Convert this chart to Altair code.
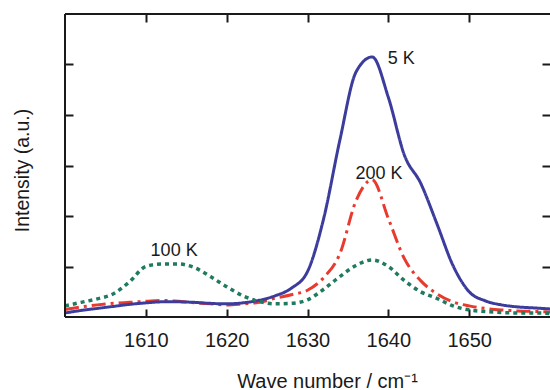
import altair as alt
import pandas as pd

# Raman spectra of the C=C stretch region at three temperatures
wavenumber = [1600, 1602, 1604, 1606, 1608, 1610, 1612, 1614, 1616, 1618,
              1620, 1622, 1624, 1626, 1628, 1630, 1632, 1634, 1636, 1638,
              1640, 1642, 1644, 1646, 1648, 1650, 1652, 1654, 1656, 1658, 1660]

int_5k = [0.08, 0.13, 0.17, 0.21, 0.25, 0.28, 0.30, 0.30, 0.29, 0.27,
          0.26, 0.28, 0.33, 0.42, 0.57, 0.90, 1.95, 3.50, 4.85, 5.15,
          4.35, 3.20, 2.65, 1.85, 1.02, 0.50, 0.32, 0.24, 0.20, 0.18, 0.16]

int_100k = [0.22, 0.29, 0.36, 0.46, 0.70, 1.00, 1.05, 1.05, 0.98, 0.80,
            0.60, 0.42, 0.31, 0.26, 0.27, 0.34, 0.55, 0.80, 1.02, 1.13,
            1.00, 0.72, 0.50, 0.37, 0.22, 0.14, 0.11, 0.09, 0.08, 0.08, 0.07]

int_200k = [0.15, 0.20, 0.24, 0.27, 0.29, 0.31, 0.33, 0.31, 0.28, 0.26,
            0.24, 0.26, 0.29, 0.37, 0.44, 0.53, 0.78, 1.25, 2.30, 2.72,
            1.95, 1.15, 0.72, 0.46, 0.30, 0.22, 0.17, 0.14, 0.12, 0.11, 0.10]

label_text = ["5 K", "200 K", "100 K"]
label_wn = [1641.6, 1638.85, 1613.5]
label_int = [5.11, 2.84, 1.31]

x_ticks = [1610, 1620, 1630, 1640, 1650]
y_ticks = [1, 2, 3, 4, 5]

FONT = "Liberation Sans"
INK = "#1a1a1a"

x_scale = alt.Scale(domain=[1600, 1660], nice=False, zero=False)
y_scale = alt.Scale(domain=[0, 6], nice=False, zero=False)


def frame(values):
    return pd.DataFrame({"wn": wavenumber, "val": values})


tick_style = dict(domain=False, grid=False, tickSize=8, tickWidth=2,
                  tickColor=INK, offset=-8)

bottom_axis = alt.Axis(
    orient="bottom", values=x_ticks, format="d",
    labelFont=FONT, labelFontSize=20, labelColor=INK,
    labelBaseline="alphabetic", labelPadding=29,
    title="Wave number / cm\u207b\u00b9", titleFont=FONT, titleFontSize=20,
    titleFontWeight="normal", titleColor=INK,
    titleX=262, titleY=78, titleAlign="center", titleBaseline="alphabetic",
    **tick_style,
)
left_axis = alt.Axis(
    orient="left", values=y_ticks, labels=False,
    title="Intensity (a.u.)", titleFont=FONT, titleFontSize=19.5,
    titleFontWeight="normal", titleColor=INK,
    titleX=-51, titleY=156, titleAngle=270, titleAlign="center",
    titleBaseline="middle",
    **tick_style,
)
top_axis = alt.Axis(orient="top", values=x_ticks, labels=False, title=None,
                    **tick_style)
right_axis = alt.Axis(orient="right", values=y_ticks, labels=False, title=None,
                      **tick_style)


def spectrum(values, color, dash, width, axes=False):
    return alt.Chart(frame(values)).mark_line(
        color=color, strokeDash=dash, strokeWidth=width,
        interpolate="monotone",
    ).encode(
        x=alt.X("wn:Q", scale=x_scale, axis=bottom_axis if axes else None),
        y=alt.Y("val:Q", scale=y_scale, axis=left_axis if axes else None),
    )


red = spectrum(int_200k, "#e83a2e", [14, 5, 3, 5], 3)
blue = spectrum(int_5k, "#3c3c9c", [1, 0], 3, axes=True)
green = spectrum(int_100k, "#1f7a5f", [4, 4], 3.5)

# Mirror ticks on the top and right edges of the frame
mirror = alt.Chart(frame(int_5k)).mark_point(opacity=0).encode(
    x=alt.X("wn:Q", scale=x_scale, axis=top_axis),
    y=alt.Y("val:Q", scale=y_scale, axis=right_axis),
)

# Frame lines on the left, bottom and top edges (the right edge is open)
base = alt.Chart(frame(int_5k))
frame_bottom = base.mark_rule(color=INK, strokeWidth=2).encode(
    y=alt.Y(datum=0, scale=y_scale, axis=None))
frame_top = base.mark_rule(color=INK, strokeWidth=2).encode(
    y=alt.Y(datum=6, scale=y_scale, axis=None))
frame_left = base.mark_rule(color=INK, strokeWidth=2).encode(
    x=alt.X(datum=1600, scale=x_scale, axis=None))

labels = alt.Chart(pd.DataFrame({
    "wn": label_wn, "val": label_int, "txt": label_text,
})).mark_text(font=FONT, fontSize=18, color=INK, align="center",
              baseline="middle").encode(
    x=alt.X("wn:Q", scale=x_scale, axis=None),
    y=alt.Y("val:Q", scale=y_scale, axis=None),
    text="txt:N",
)

chart = alt.layer(
    red, blue, green, mirror, frame_bottom, frame_top, frame_left, labels
).resolve_axis(
    x="independent", y="independent"
).properties(
    width=485, height=303,
    autosize=alt.AutoSizeParams(type="none"),
    padding={"left": 65, "top": 14, "right": 0, "bottom": 73},
    background="white",
).configure_view(stroke=None)

chart.save("out.html", embed_options={"renderer": "svg", "actions": False})
